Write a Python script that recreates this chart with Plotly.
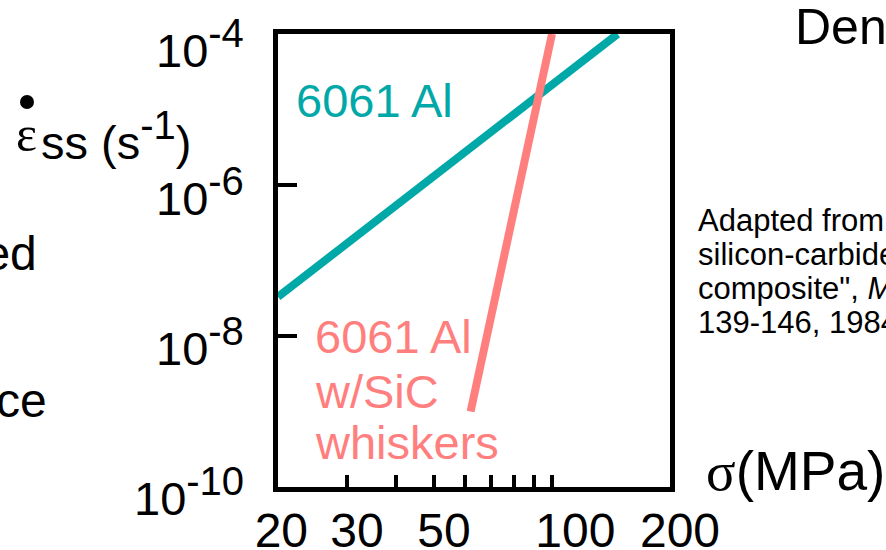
import math
import plotly.graph_objects as go

# ---- data ----
AL_STRESS = [20, 147]              # MPa
AL_RATE = [3.3e-8, 1.0e-4]         # s^-1
SIC_STRESS = [62, 100]             # MPa
SIC_RATE = [1.0e-9, 1.0e-4]        # s^-1

X_TICKS = [20, 30, 50, 100, 200]
X_TICK_TEXT = ["20\u00a0", "30", "50", "\u00a0\u00a0100", "200"]
X_MINOR = [40, 60, 70, 80, 90]
Y_TICKS = [1e-10, 1e-8, 1e-6, 1e-4]
Y_EXPONENTS = ["-10", "-8", "-6", "-4"]

# label nudges (px, downward) for the y tick labels, as laid out on the slide
Y_LABEL_DROP = [5, 6, 7, 10]

TEAL = "#00A8A8"
PINK = "#FF7F7F"
SANS = "Liberation Sans, Arial, sans-serif"
SERIF = "Liberation Serif, Times New Roman, serif"
SUP = "<sup><span style='font-size:40px'>{}</span></sup>"

W, H = 886, 550
L, R, T, B = 278, 216, 34, 63
PW, PH = W - L - R, H - T - B


def px(x):
    return (x - L) / PW


def py(y):
    return (H - B - y) / PH


fig = go.Figure()
fig.add_trace(go.Scatter(x=AL_STRESS, y=AL_RATE, mode="lines",
                         line=dict(color=TEAL, width=8), hoverinfo="skip"))
fig.add_trace(go.Scatter(x=SIC_STRESS, y=SIC_RATE, mode="lines",
                         line=dict(color=PINK, width=8), hoverinfo="skip"))

ann = []


def add(text, x, y, size, color="black", xanchor="left", yanchor="middle", family=SANS):
    ann.append(dict(text=text, x=px(x), y=py(y), xref="paper", yref="paper",
                    xanchor=xanchor, yanchor=yanchor, showarrow=False,
                    font=dict(size=size, color=color, family=family)))


# y tick labels, placed on the y axis scale
for val, exp, drop in zip(Y_TICKS, Y_EXPONENTS, Y_LABEL_DROP):
    ann.append(dict(text="10" + SUP.format(exp), x=px(246), xref="paper",
                    y=math.log10(val), yref="y", yshift=-drop,
                    xanchor="right", yanchor="middle", showarrow=False,
                    font=dict(size=47, family=SANS, color="black")))

# series labels
add("6061 Al", 294, 101, 47, TEAL)
add("6061 Al", 313, 336, 47, PINK)
add("w/SiC", 313, 391, 47, PINK)
add("whiskers", 313, 442, 47, PINK)

# axis titles (strain-rate dot drawn as a small filled circle)
add("ε", 14, 134, 50, family=SERIF)
add("ss (s" + SUP.format("-1") + ")", 39, 136, 47)
add("<span style='font-family:Liberation Serif'>σ</span>(MPa)", 704, 471, 55)

# surrounding slide text
add("Density", 793, 27, 50)
add("Increased", 39, 253, 48, xanchor="right")
add("resistance", 49, 400, 48, xanchor="right")
add("Adapted from T.G. Nieh, \"Creep rupture of a", 696, 220, 31)
add("silicon-carbide reinforced aluminum", 696, 254, 31)
add("composite\", <i>Metall. Trans. A</i>, Vol. 15A,", 696, 288, 31)
add("139-146, 1984.", 696, 322, 31)

fig.update_layout(
    width=W, height=H, margin=dict(l=L, r=R, t=T, b=B, pad=0, autoexpand=False),
    plot_bgcolor="white", paper_bgcolor="white", showlegend=False,
    font=dict(family=SANS, color="black"),
    annotations=ann,
    shapes=[dict(type="circle", xref="paper", yref="paper",
                 x0=px(20), x1=px(34), y0=py(109), y1=py(95),
                 fillcolor="black", line=dict(width=0))],
)
fig.update_xaxes(
    type="log", range=[math.log10(20), math.log10(200)], automargin=False,
    showgrid=False, zeroline=False, showline=True, linewidth=5, linecolor="black", mirror=True,
    ticks="inside", ticklen=12, tickwidth=4, tickcolor="black",
    tickvals=X_TICKS, ticktext=X_TICK_TEXT, tickfont=dict(size=48, family=SANS),
    ticklabelstandoff=-3, ticklabelshift=10, ticklabeloverflow="allow",
    minor=dict(tickvals=X_MINOR, ticks="inside", ticklen=12, tickwidth=4, tickcolor="black", showgrid=False),
)
fig.update_yaxes(
    type="log", range=[-10, -4], automargin=False,
    showgrid=False, zeroline=False, showline=True, linewidth=5, linecolor="black", mirror=True,
    ticks="inside", ticklen=19, tickwidth=4, tickcolor="black",
    tickvals=Y_TICKS, showticklabels=False,
)
fig.write_html("out.html", config={"displayModeBar": False},
               post_script="document.body.style.margin='0';document.body.style.overflow='hidden';")
